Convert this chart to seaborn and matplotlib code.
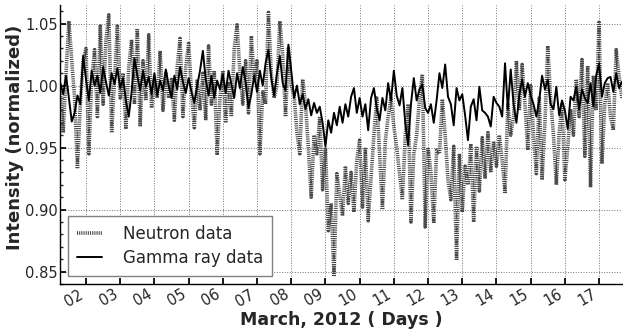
import matplotlib
matplotlib.use('Agg')
import matplotlib.pyplot as plt
import matplotlib.dates as mdates
from matplotlib.ticker import MultipleLocator
import seaborn as sns
import pandas as pd

# Normalized intensities, sampled every 2 hours from 2012-03-01 06:00
neutron = [
    # Mar 01 (06h-22h)
    0.995, 0.962, 1.010, 1.052, 1.020, 0.990, 0.933, 0.985, 1.020,
    # Mar 02
    1.030, 0.945, 1.005, 1.029, 0.975, 1.048, 0.985, 1.037, 1.057, 0.962, 1.005, 1.048,
    # Mar 03
    0.990, 1.010, 0.965, 1.015, 1.037, 0.985, 1.046, 0.967, 1.020, 0.988, 1.041, 0.982,
    # Mar 04
    1.005, 0.990, 1.028, 0.980, 1.010, 0.990, 1.005, 0.972, 1.015, 1.038, 0.975, 1.015,
    # Mar 05
    1.034, 0.995, 0.966, 1.005, 0.980, 1.010, 0.972, 1.032, 0.985, 1.012, 0.944, 0.990,
    # Mar 06
    1.012, 0.970, 1.003, 0.975, 1.030, 1.049, 1.010, 0.985, 1.020, 0.978, 1.040, 1.005,
    # Mar 07
    1.020, 0.945, 0.995, 0.985, 1.059, 1.010, 0.990, 1.000, 1.052, 1.025, 0.975, 1.030,
    # Mar 08
    1.000, 0.992, 0.962, 0.945, 1.005, 0.985, 0.950, 0.910, 0.960, 0.945, 0.975, 0.916,
    # Mar 09
    0.950, 0.883, 0.905, 0.846, 0.929, 0.912, 0.895, 0.935, 0.905, 0.930, 0.898, 0.940,
    # Mar 10
    0.956, 0.902, 0.950, 0.891, 0.925, 0.960, 0.990, 0.945, 0.900, 0.955, 0.975, 0.990,
    # Mar 11
    0.967, 0.950, 0.929, 0.908, 0.960, 0.985, 0.890, 0.945, 0.960, 0.990, 1.009, 0.886,
    # Mar 12
    0.950, 0.930, 0.889, 0.948, 0.945, 0.989, 0.960, 0.924, 0.908, 0.951, 0.859, 0.945,
    # Mar 13
    0.898, 0.935, 0.920, 0.953, 0.890, 0.951, 0.915, 0.958, 0.925, 0.962, 0.930, 0.955,
    # Mar 14
    0.935, 0.960, 0.940, 0.913, 0.985, 0.960, 0.975, 1.020, 0.980, 1.017, 0.985, 0.948,
    # Mar 15
    1.000, 0.960, 0.929, 0.990, 0.924, 0.970, 1.032, 0.989, 0.960, 0.920, 0.962, 0.985,
    # Mar 16
    0.924, 0.950, 0.981, 0.960, 1.005, 0.975, 1.021, 0.943, 1.016, 0.918, 1.008, 0.980,
    # Mar 17 (00h-16h)
    1.051, 0.937, 0.985, 1.002, 0.975, 0.964, 1.029, 1.008, 0.990,
]

gamma = [
    # Mar 01 (06h-22h)
    1.002, 0.993, 1.008, 0.990, 0.971, 0.978, 0.992, 0.985, 1.024,
    # Mar 02
    1.005, 0.988, 1.012, 1.000, 1.008, 0.994, 1.015, 1.003, 0.992, 1.010, 1.001, 1.014,
    # Mar 03
    0.998, 1.006, 0.988, 0.975, 0.995, 1.022, 1.008, 0.996, 1.012, 0.999, 1.007, 0.993,
    # Mar 04
    1.010, 0.992, 1.004, 0.996, 1.013, 1.000, 0.990, 1.008, 0.997, 1.015, 1.003, 0.994,
    # Mar 05
    1.006, 0.995, 0.986, 1.000, 1.012, 1.028, 1.005, 0.992, 1.008, 0.990, 1.004, 0.997,
    # Mar 06
    1.009, 0.994, 1.012, 1.001, 0.990, 1.010, 0.998, 1.015, 1.003, 0.982, 0.993, 1.008,
    # Mar 07
    0.995, 1.012, 1.000, 1.018, 1.029, 1.006, 0.992, 1.010, 1.024, 1.002, 0.996, 1.033,
    # Mar 08
    1.012, 0.990, 1.000, 0.985, 0.993, 0.981, 0.989, 0.976, 0.986, 0.978, 0.983, 0.970,
    # Mar 09
    0.951, 0.972, 0.962, 0.978, 0.968, 0.983, 0.970, 0.985, 0.975, 0.991, 0.998, 0.978,
    # Mar 10
    0.990, 0.975, 0.985, 0.964, 0.990, 0.998, 0.982, 0.972, 0.990, 0.980, 1.002, 0.988,
    # Mar 11
    1.012, 0.992, 0.984, 0.998, 0.970, 0.952, 0.985, 1.006, 0.988, 0.997, 1.001, 0.982,
    # Mar 12
    0.978, 0.985, 0.970, 0.988, 1.010, 0.998, 1.017, 0.991, 0.985, 0.968, 0.998, 0.988,
    # Mar 13
    0.993, 0.976, 0.956, 0.983, 0.989, 0.972, 0.999, 0.980, 0.978, 0.975, 0.967, 0.991,
    # Mar 14
    0.986, 0.983, 0.975, 1.018, 0.981, 1.013, 0.985, 0.970, 0.992, 1.005, 0.991, 1.002,
    # Mar 15
    0.992, 0.985, 0.975, 0.988, 1.008, 0.997, 1.005, 0.985, 0.981, 0.999, 0.976, 0.988,
    # Mar 16
    0.980, 0.965, 0.991, 0.988, 0.999, 0.981, 0.997, 0.990, 0.986, 1.002, 0.983, 1.008,
    # Mar 17 (00h-16h)
    1.018, 0.991, 1.002, 1.006, 1.007, 0.995, 1.010, 0.998, 1.003,
]

times = pd.date_range('2012-03-01 06:00', periods=len(gamma), freq='2h')
df = pd.DataFrame({'time': times, 'neutron': neutron, 'gamma': gamma})

sns.set_theme(style='white')
plt.rcParams['font.family'] = ['DejaVu Sans']

fig = plt.figure(figsize=(6.23, 3.30), dpi=100)
ax = fig.add_axes([0.0963, 0.1394, 0.9021, 0.8455])

# Neutron: thick line with a very fine dot pattern (looks striped/grey)
sns.lineplot(data=df, x='time', y='neutron', ax=ax, color='0.28',
             linewidth=2.6, linestyle=(0, (0.3, 0.3)), label='Neutron data')
sns.lineplot(data=df, x='time', y='gamma', ax=ax, color='black',
             linewidth=1.4, label='Gamma ray data')

ax.set_xlim(pd.Timestamp('2012-03-01 05:45'), pd.Timestamp('2012-03-17 16:05'))
ax.set_ylim(0.84, 1.065)

ax.xaxis.set_major_locator(mdates.DayLocator())
ax.xaxis.set_major_formatter(mdates.DateFormatter('%d'))
ax.yaxis.set_major_locator(MultipleLocator(0.05))
ax.yaxis.set_minor_locator(MultipleLocator(0.01))
ax.yaxis.set_major_formatter(plt.FormatStrFormatter('%.2f'))

for lbl in ax.get_xticklabels():
    lbl.set_rotation(30)
    lbl.set_ha('right')

ax.tick_params(axis='both', which='major', direction='in', length=4,
               labelsize=10.5, color='black', pad=2)
ax.tick_params(axis='y', which='minor', direction='in', length=2, left=True)
ax.tick_params(axis='x', which='major', bottom=True)
ax.tick_params(axis='y', which='major', left=True, pad=1.5)

ax.grid(True, which='major', linestyle=':', linewidth=0.7, color='0.45')

for side in ['top', 'right']:
    ax.spines[side].set_visible(False)
for side in ['left', 'bottom']:
    ax.spines[side].set_color('black')
    ax.spines[side].set_linewidth(1.0)

ax.set_xlabel('March, 2012 ( Days )', fontsize=12.5, fontweight='bold', labelpad=1)
ax.set_ylabel('Intensity (normalized)', fontsize=13, fontweight='bold')
ax.yaxis.set_label_coords(-0.064, 0.525)

leg = ax.legend(loc='lower left', fontsize=12, frameon=True, fancybox=False,
                handlelength=1.5, handletextpad=1.3, borderpad=0.5,
                labelspacing=0.4)
leg.get_frame().set_edgecolor('0.5')
leg.get_frame().set_linewidth(1.0)
leg.get_frame().set_alpha(1.0)

fig.savefig('out.png', dpi=100)
